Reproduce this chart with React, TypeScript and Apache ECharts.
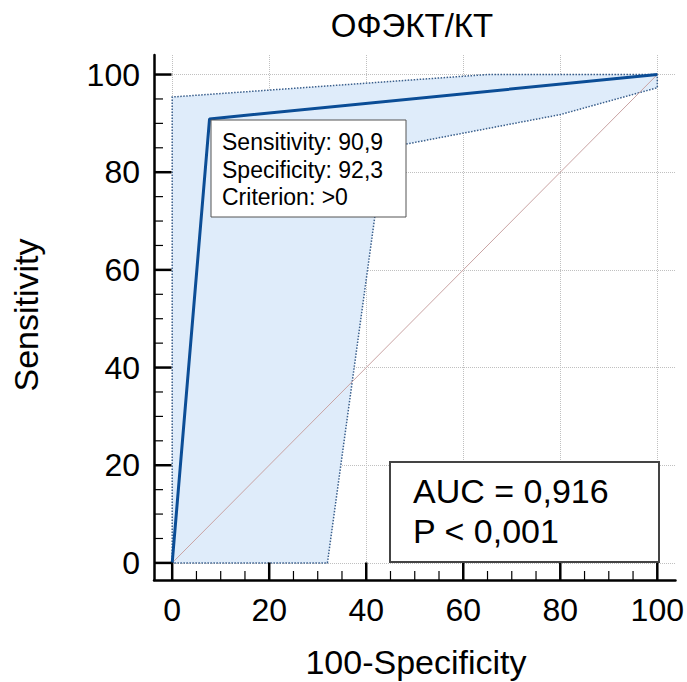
import React, { useEffect, useRef } from "react";
import * as echarts from "echarts";

const titleText = "ОФЭКТ/КТ";
const xAxisTitle = "100-Specificity";
const yAxisTitle = "Sensitivity";

const majorTicks = [0, 20, 40, 60, 80, 100];
const minorTicks = [5, 10, 15, 25, 30, 35, 45, 50, 55, 65, 70, 75, 85, 90, 95];

// ROC curve: 100-Specificity vs Sensitivity
const rocX = [0, 7.7, 100];
const rocY = [0, 90.9, 100];

// reference diagonal
const diagX = [0, 100];
const diagY = [0, 100];

// confidence band polygon
const bandX = [0, 0, 65, 100, 100, 80, 43.7, 32];
const bandY = [0, 95.4, 100, 100, 97.3, 91.8, 84.9, 0];

const cutoffLines = ["Sensitivity: 90,9", "Specificity: 92,3", "Criterion: >0"];
const statLines = ["AUC = 0,916", "P < 0,001"];

const FONT = "'Liberation Sans', Arial, sans-serif";
const X_MIN = -3.75;
const X_MAX = 103.75;
const Y_MIN = -3.5;
const Y_MAX = 104;

export default function App() {
  const ref = useRef<HTMLDivElement>(null);
  useEffect(() => {
    if (!ref.current) return;
    const chart = echarts.init(ref.current, undefined, { renderer: "svg" });

    const gridLine = { show: true, lineStyle: { color: "#c0c0c0", type: "dotted", width: 1 } };

    const tickSeries = (values: number[], len: number, width: number) => ({
      type: "custom",
      xAxisIndex: 0,
      yAxisIndex: 0,
      z: 20,
      clip: false,
      silent: true,
      data: values.map((v) => [v, v]),
      encode: { x: 0, y: 1 },
      renderItem: (params: any, api: any) => {
        const v = api.value(0);
        const px = api.coord([v, Y_MIN]);
        const py = api.coord([X_MIN, v]);
        const style = { stroke: "#000", lineWidth: width };
        return {
          type: "group",
          children: [
            { type: "line", shape: { x1: px[0], y1: px[1], x2: px[0], y2: px[1] - len }, style },
            { type: "line", shape: { x1: py[0], y1: py[1], x2: py[0] + len, y2: py[1] }, style },
          ],
        };
      },
    });

    const option: any = {
      animation: false,
      backgroundColor: "#ffffff",
      grid: { left: 154, top: 55, width: 524, height: 525, containLabel: false },
      xAxis: {
        type: "value",
        min: X_MIN,
        max: X_MAX,
        position: "bottom",
        axisLine: { show: true, onZero: false, lineStyle: { color: "#000", width: 2.5 } },
        axisTick: { show: false, customValues: majorTicks },
        axisLabel: { show: true, customValues: majorTicks, fontSize: 32, color: "#000", fontFamily: FONT, margin: 30, verticalAlign: "middle" },
        splitLine: gridLine,
      },
      yAxis: {
        type: "value",
        min: Y_MIN,
        max: Y_MAX,
        position: "left",
        axisLine: { show: true, onZero: false, lineStyle: { color: "#000", width: 2.5 } },
        axisTick: { show: false, customValues: majorTicks },
        axisLabel: { show: true, customValues: majorTicks, fontSize: 32, color: "#000", fontFamily: FONT, margin: 14 },
        splitLine: gridLine,
      },
      series: [
        {
          type: "custom",
          xAxisIndex: 0,
          yAxisIndex: 0,
          z: 1,
          silent: true,
          data: bandX.map((x, i) => [x, bandY[i]]),
          encode: { x: 0, y: 1 },
          renderItem: (params: any, api: any) => {
            if (params.dataIndex !== 0) return null;
            const points = bandX.map((x, i) => api.coord([x, bandY[i]]));
            return {
              type: "polygon",
              shape: { points },
              style: { fill: "#dfecfa", stroke: "#3a5f8c", lineWidth: 1.5, lineDash: [1.5, 1.5] },
            };
          },
        },
        {
          type: "line",
          z: 2,
          symbol: "none",
          data: diagX.map((x, i) => [x, diagY[i]]),
          lineStyle: { color: "#c9a3a3", width: 1 },
        },
        {
          type: "line",
          z: 3,
          symbol: "none",
          data: rocX.map((x, i) => [x, rocY[i]]),
          lineStyle: { color: "#0b4d96", width: 3 },
        },
        tickSeries(majorTicks, 17.5, 2.5),
        tickSeries(minorTicks, 9, 1.2),
      ],
      graphic: [
        {
          type: "text",
          x: 412,
          y: 25,
          style: { text: titleText, fontSize: 33, fontFamily: FONT, fill: "#000", align: "center", verticalAlign: "middle" },
        },
        {
          type: "text",
          x: 416,
          y: 662,
          style: { text: xAxisTitle, fontSize: 34, fontFamily: FONT, fill: "#000", align: "center", verticalAlign: "middle" },
        },
        {
          type: "text",
          x: 26,
          y: 315,
          rotation: Math.PI / 2,
          style: { text: yAxisTitle, fontSize: 34, fontFamily: FONT, fill: "#000", align: "center", verticalAlign: "middle" },
        },
        {
          type: "group",
          z: 100,
          children: [
            {
              type: "rect",
              shape: { x: 211, y: 120, width: 195, height: 97 },
              style: { fill: "#fff", stroke: "#555", lineWidth: 1 },
              z: 100,
            },
            ...cutoffLines.map((t, i) => ({
              type: "text",
              x: 222,
              y: 142 + i * 27.5,
              z: 101,
              style: { text: t, fontSize: 23, fontFamily: FONT, fill: "#000", align: "left", verticalAlign: "middle" },
            })),
            {
              type: "rect",
              shape: { x: 390, y: 462, width: 269, height: 100 },
              style: { fill: "#fff", stroke: "#444", lineWidth: 2 },
              z: 100,
            },
            ...statLines.map((t, i) => ({
              type: "text",
              x: 413,
              y: 490.5 + i * 40,
              z: 101,
              style: { text: t, fontSize: 34, fontFamily: FONT, fill: "#000", align: "left", verticalAlign: "middle" },
            })),
          ],
        },
      ],
    };

    chart.setOption(option);
    return () => chart.dispose();
  }, []);

  return (
    <div
      ref={ref}
      style={{ position: "absolute", left: 0, top: 0, width: 687, height: 682, background: "#fff" }}
    />
  );
}
